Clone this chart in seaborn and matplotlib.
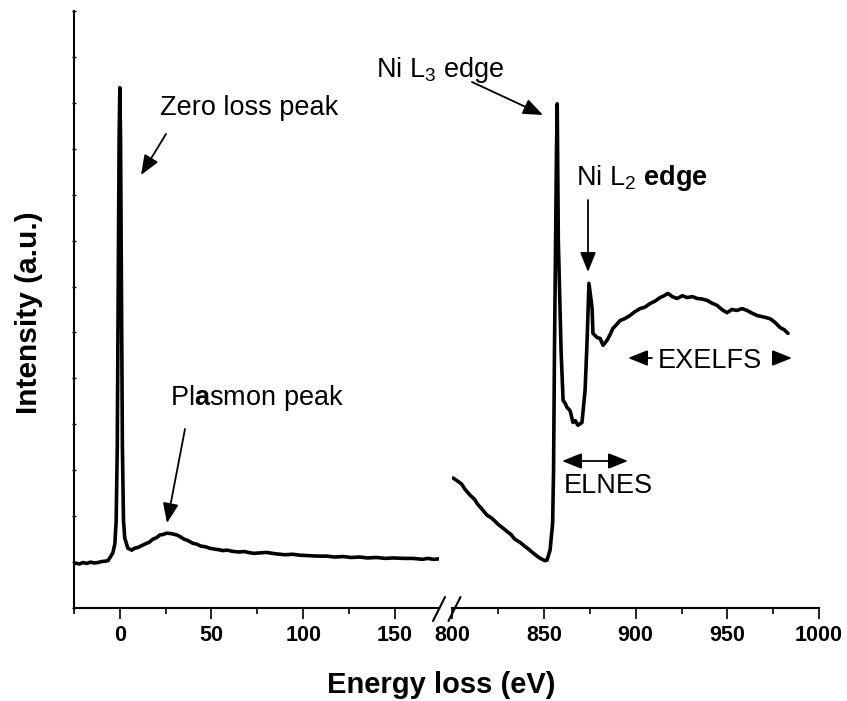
import matplotlib
matplotlib.use("Agg")
import matplotlib.pyplot as plt
import seaborn as sns
import pandas as pd
from matplotlib.lines import Line2D

# ---------------- data ----------------
energy_low = [-25, -22, -20, -18, -16, -14, -12, -10, -8, -6.5, -5.5, -3.8, -2.7, -2.0, -1.4, -0.8,
              -0.4, 0, 0.4, 0.8, 1.4, 2.0, 2.7, 4.4, 6.5, 8, 10, 12, 14.7, 16, 18, 20, 21.8, 23.5,
              25.6, 28, 31.1, 33, 35, 37, 39.8, 42, 44, 47, 49.1, 52, 54, 56, 58.4, 62, 65, 68,
              70, 73, 76.4, 80, 85, 90, 94.4, 98, 103, 108, 112.9, 117, 122, 126, 130.9, 135,
              140, 145, 148.9, 155, 160, 165, 168, 171, 174]
intensity_low = [0.98, 0.96, 0.99, 0.97, 1.00, 0.98, 0.99, 1.01, 1.02, 1.03, 1.09, 1.20, 1.40, 1.9, 3.5,
                 7.5, 10.2, 11.33, 10.2, 7.5, 3.5, 1.9, 1.52, 1.30, 1.26, 1.30, 1.32, 1.36, 1.41,
                 1.43, 1.50, 1.53, 1.59, 1.60, 1.63, 1.62, 1.59, 1.55, 1.50, 1.47, 1.41, 1.39, 1.35,
                 1.33, 1.30, 1.28, 1.27, 1.25, 1.26, 1.23, 1.22, 1.23, 1.21, 1.19, 1.20, 1.21, 1.18,
                 1.16, 1.17, 1.15, 1.14, 1.13, 1.13, 1.11, 1.12, 1.10, 1.11, 1.09, 1.10, 1.08, 1.09,
                 1.08, 1.08, 1.06, 1.08, 1.06, 1.07]

energy_high = [800.4, 803, 805, 807, 809.6, 812, 814, 816, 818.9, 821, 823, 825, 827.6, 830, 832,
               834, 836.9, 839, 841, 842.5, 844.0, 846.5, 848.9, 850.5, 851.6, 853.3, 854.7, 855.2,
               855.7, 856.3, 856.8, 857.2, 857.8, 859.3, 860.4, 861.5, 862.5, 864.2, 865.8, 867,
               868.5, 870.7, 872.4, 873.5, 874.5, 876.2, 876.7, 878.9, 880.6, 882.2, 884.4, 886,
               887.6, 889.5, 891.5, 894, 896.9, 899.5, 902.4, 905, 907.8, 910.5, 913.3, 915.5,
               917.6, 920, 922.6, 925.5, 928.0, 931, 933.5, 936, 938.9, 941.5, 944.4, 947, 949.8,
               952.5, 955.3, 958, 960.7, 963.5, 966.2, 969.5, 973.3, 976, 978.7, 981, 983.1]
intensity_high = [2.83, 2.76, 2.70, 2.58, 2.46, 2.37, 2.25, 2.16, 2.02, 1.97, 1.90, 1.82, 1.74, 1.66,
                  1.60, 1.50, 1.43, 1.36, 1.30, 1.25, 1.20, 1.12, 1.06, 1.03, 1.04, 1.26, 1.85, 3.0,
                  5.6, 8.0, 9.96, 10.98, 8.0, 5.6, 4.52, 4.46, 4.37, 4.30, 4.04, 4.08, 3.98, 4.04,
                  4.74, 5.83, 7.07, 6.54, 5.98, 5.89, 5.87, 5.72, 5.83, 5.95, 6.09, 6.17, 6.26, 6.30,
                  6.37, 6.45, 6.52, 6.55, 6.63, 6.68, 6.76, 6.80, 6.85, 6.78, 6.74, 6.80, 6.76, 6.78,
                  6.74, 6.73, 6.70, 6.64, 6.59, 6.50, 6.43, 6.50, 6.48, 6.52, 6.48, 6.42, 6.37, 6.34,
                  6.30, 6.22, 6.11, 6.06, 5.98]

low_major = [0, 50, 100, 150]
low_minor = [-25, 25, 75, 125]
high_major = [800, 850, 900, 950, 1000]
high_minor = [825, 875, 925, 975]
y_ticks = list(range(0, 14))

df_low = pd.DataFrame({"E": energy_low, "I": intensity_low})
df_high = pd.DataFrame({"E": energy_high, "I": intensity_high})

# ---------------- style ----------------
sns.set_style("ticks")
plt.rcParams["font.family"] = ["Liberation Sans", "DejaVu Sans"]
plt.rcParams["mathtext.fontset"] = "custom"
plt.rcParams["mathtext.rm"] = "Liberation Sans"
plt.rcParams["mathtext.it"] = "Liberation Sans:italic"
plt.rcParams["mathtext.bf"] = "Liberation Sans:bold"
plt.rcParams["text.color"] = "black"
plt.rcParams["axes.labelcolor"] = "black"
plt.rcParams["xtick.color"] = "black"
plt.rcParams["ytick.color"] = "black"
plt.rcParams["axes.edgecolor"] = "black"

W, H = 847, 701
fig = plt.figure(figsize=(W / 100, H / 100), dpi=100)


def fx(x):
    return x / W


def fy(y):
    return 1 - y / H


ax_l = fig.add_axes([fx(74), fy(608), (439 - 74) / W, (608 - 11) / H])
ax_r = fig.add_axes([fx(452), fy(608), (819 - 452) / W, (608 - 11) / H])

lw = 2.6
sns.lineplot(data=df_low, x="E", y="I", ax=ax_l, color="black", linewidth=lw,
             estimator=None, sort=False)
sns.lineplot(data=df_high, x="E", y="I", ax=ax_r, color="black", linewidth=lw,
             estimator=None, sort=False)
for ax in (ax_l, ax_r):
    for ln in ax.get_lines():
        ln.set_solid_joinstyle("round")
        ln.set_solid_capstyle("round")

ax_l.set_xlim(-25, 174.1)
ax_r.set_xlim(799.8, 1000)
for ax in (ax_l, ax_r):
    ax.set_ylim(0, 13)
    ax.set_xlabel("")
    ax.set_ylabel("")
    ax.spines["top"].set_visible(False)
    ax.spines["right"].set_visible(False)
    ax.spines["bottom"].set_linewidth(1.5)
    ax.spines["left"].set_linewidth(1.5)
    ax.patch.set_alpha(0)

ax_l.set_xticks(low_major)
ax_l.set_xticks(low_minor, minor=True)
ax_r.set_xticks(high_major)
ax_r.set_xticks(high_minor, minor=True)

ax_l.set_yticks(y_ticks)
ax_l.set_yticklabels([])
ax_l.tick_params(axis="y", which="major", direction="inout", length=3.5, width=1.0)
ax_r.spines["left"].set_visible(False)
ax_r.set_yticks([])

for ax in (ax_l, ax_r):
    ax.tick_params(axis="x", which="major", direction="out", length=8, width=1.2,
                   pad=4, labelsize=15.5)
    ax.tick_params(axis="x", which="minor", direction="out", length=4.3, width=1.2)
    for lab in ax.get_xticklabels():
        lab.set_fontweight("bold")

# break marks
for x0 in (439, 454.5):
    fig.add_artist(Line2D([fx(x0 - 6), fx(x0 + 6)], [fy(621), fy(597)],
                          color="black", linewidth=1.5, transform=fig.transFigure))

# axis labels
fig.text(fx(441), fy(693), "Energy loss (eV)", ha="center", va="baseline",
         fontsize=21, fontweight="bold")
fig.text(fx(29), fy(313), "Intensity (a.u.)", ha="center", va="center",
         rotation=90, fontsize=21.5, fontweight="bold")

# annotations
fs = 19.5
fig.text(fx(160), fy(115), "Zero loss peak", ha="left", va="baseline", fontsize=fs)
fig.text(fx(170), fy(405), r"Pl$\mathbf{a}$smon peak", ha="left", va="baseline", fontsize=fs)
fig.text(fx(376), fy(77), r"Ni L$_3$ edge", ha="left", va="baseline", fontsize=fs)
fig.text(fx(576), fy(185), r"Ni L$_2$ $\mathbf{edge}$", ha="left", va="baseline", fontsize=fs)
fig.text(fx(564), fy(493), "ELNES", ha="left", va="baseline", fontsize=fs)
fig.text(fx(658), fy(368), "EXELFS", ha="left", va="baseline", fontsize=fs)


def arrow(x0, y0, x1, y1, style="-|>"):
    fig.add_artist(matplotlib.patches.FancyArrowPatch(
        (fx(x0), fy(y0)), (fx(x1), fy(y1)), transform=fig.transFigure,
        arrowstyle=style + ",head_length=7.5,head_width=3.0", color="black",
        linewidth=1.3, shrinkA=0, shrinkB=0, mutation_scale=1.6))


arrow(166, 134, 141, 175)
arrow(185, 429, 167, 523)
arrow(472, 82, 543, 115)
arrow(588, 200, 588, 272)
arrow(562, 461, 628, 461, style="<|-|>")
arrow(652, 358, 628, 358)
arrow(773, 358, 792, 358)

fig.savefig("out.png", dpi=100)
